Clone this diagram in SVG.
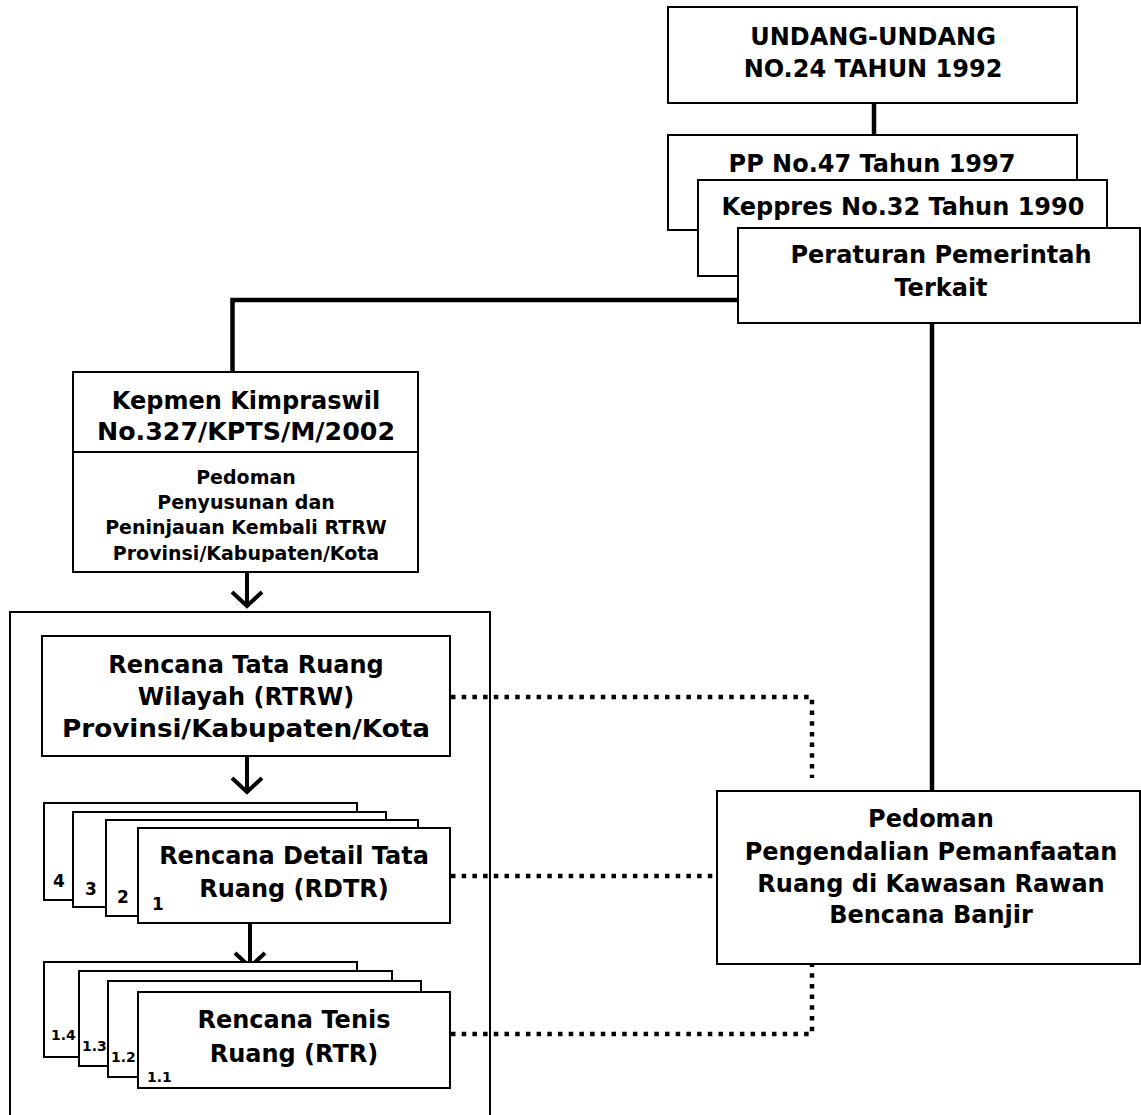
<svg xmlns="http://www.w3.org/2000/svg" width="1141" height="1115" viewBox="0 0 1141 1115">
<style>
.box{fill:#fff;stroke:#000;stroke-width:2}
.t{font-family:"DejaVu Sans","Liberation Sans",sans-serif;font-weight:bold;font-size:24px;fill:#000;text-anchor:middle}
.s{font-size:19px}
.n{font-family:"DejaVu Sans","Liberation Sans",sans-serif;font-weight:bold;font-size:17px;fill:#000}
.n2{font-family:"DejaVu Sans","Liberation Sans",sans-serif;font-weight:bold;font-size:14px;fill:#000}
.solid{fill:none;stroke:#000;stroke-width:4.5}
.arr{fill:none;stroke:#000;stroke-width:4}
.dot{fill:none;stroke:#000;stroke-width:4.5;stroke-dasharray:4.5 6.2}
</style>
<defs>
<clipPath id="kclip"><rect x="74" y="453" width="343" height="109"/></clipPath>
</defs>
<rect width="1141" height="1115" fill="#fff"/>

<g id="container">
<rect x="10" y="612" width="480" height="520" fill="none" stroke="#000" stroke-width="2"/>
</g>

<g id="connectors">
<line class="solid" x1="874" y1="103" x2="874" y2="135"/>
<polyline class="solid" points="738,300 232.5,300 232.5,372"/>
<line class="solid" x1="932" y1="323" x2="932" y2="791"/>
<line class="arr" x1="247" y1="572" x2="247" y2="606"/>
<polyline class="arr" points="232,592 247,606 262,592"/>
<line class="arr" x1="247" y1="756" x2="247" y2="792"/>
<polyline class="arr" points="232,778 247,792 262,778"/>
<line class="arr" x1="250" y1="923" x2="250" y2="967"/>
<polyline class="arr" points="235,953 250,967 265,953"/>
<polyline class="dot" points="451,697 812,697 812,778"/>
<line class="dot" x1="451" y1="876" x2="716" y2="876"/>
<polyline class="dot" points="451,1034 812,1034 812,965"/>
</g>

<g id="undang">
<rect class="box" x="668" y="7" width="409" height="96"/>
<text class="t" x="873" y="45">UNDANG-UNDANG</text>
<text class="t" x="873" y="77">NO.24 TAHUN 1992</text>
</g>

<g id="pp">
<rect class="box" x="668" y="135" width="409" height="95"/>
<text class="t" x="872" y="172">PP No.47 Tahun 1997</text>
</g>

<g id="keppres">
<rect class="box" x="698" y="180" width="409" height="96"/>
<text class="t" x="903" y="215">Keppres No.32 Tahun 1990</text>
</g>

<g id="peraturan">
<rect class="box" x="738" y="228" width="402" height="95"/>
<text class="t" x="941" y="263">Peraturan Pemerintah</text>
<text class="t" x="941" y="296">Terkait</text>
</g>

<g id="kepmen">
<rect class="box" x="73" y="372" width="345" height="200"/>
<line x1="73" y1="452" x2="418" y2="452" stroke="#000" stroke-width="2"/>
<text class="t" x="246" y="409">Kepmen Kimpraswil</text>
<text class="t" x="246" y="440" textLength="298" lengthAdjust="spacingAndGlyphs">No.327/KPTS/M/2002</text>
<g clip-path="url(#kclip)">
<text class="t s" x="246" y="484">Pedoman</text>
<text class="t s" x="246" y="509">Penyusunan dan</text>
<text class="t s" x="246" y="534">Peninjauan Kembali RTRW</text>
<text class="t s" x="246" y="560">Provinsi/Kabupaten/Kota</text>
</g>
</g>

<g id="rtrw">
<rect class="box" x="42" y="636" width="408" height="120"/>
<text class="t" x="246" y="673">Rencana Tata Ruang</text>
<text class="t" x="246" y="705">Wilayah (RTRW)</text>
<text class="t" x="246" y="737" textLength="368" lengthAdjust="spacingAndGlyphs">Provinsi/Kabupaten/Kota</text>
</g>

<g id="rdtr">
<rect class="box" x="44" y="803" width="313" height="97"/>
<text class="n" x="53" y="887">4</text>
<rect class="box" x="73" y="812" width="313" height="95"/>
<text class="n" x="85" y="895">3</text>
<rect class="box" x="106" y="820" width="312" height="96"/>
<text class="n" x="117" y="903">2</text>
<rect class="box" x="138" y="828" width="312" height="95"/>
<text class="n" x="152" y="910">1</text>
<text class="t" x="294" y="864">Rencana Detail Tata</text>
<text class="t" x="294" y="897">Ruang (RDTR)</text>
</g>

<g id="rtr">
<rect class="box" x="44" y="962" width="313" height="95"/>
<text class="n2" x="51" y="1040">1.4</text>
<rect class="box" x="79" y="971" width="313" height="95"/>
<text class="n2" x="82" y="1051">1.3</text>
<rect class="box" x="108" y="981" width="313" height="96"/>
<text class="n2" x="111" y="1062">1.2</text>
<rect class="box" x="138" y="992" width="312" height="96"/>
<text class="n2" x="147" y="1082">1.1</text>
<text class="t" x="294" y="1028">Rencana Tenis</text>
<text class="t" x="294" y="1062">Ruang (RTR)</text>
</g>

<g id="pedoman">
<rect class="box" x="717" y="791" width="423" height="173"/>
<text class="t" x="931" y="827">Pedoman</text>
<text class="t" x="931" y="860">Pengendalian Pemanfaatan</text>
<text class="t" x="931" y="892">Ruang di Kawasan Rawan</text>
<text class="t" x="931" y="923">Bencana Banjir</text>
</g>
</svg>
